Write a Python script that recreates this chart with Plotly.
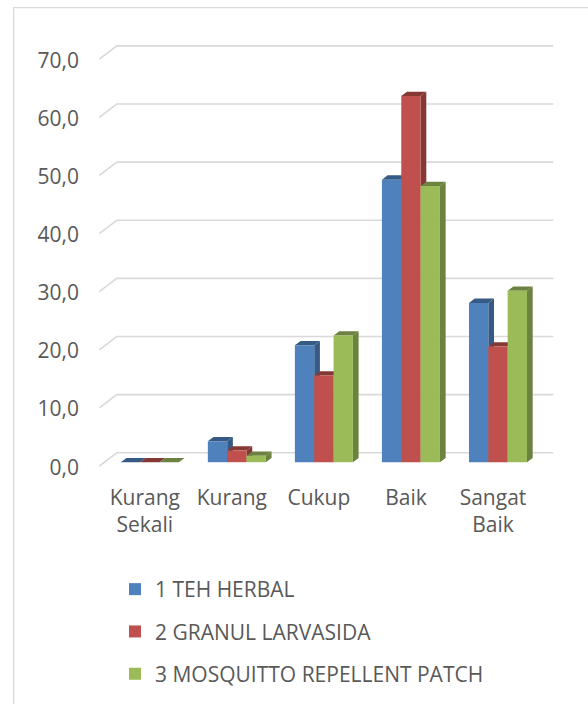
import plotly.graph_objects as go

# ---------------- data ----------------
categories = ["Kurang<br>Sekali", "Kurang", "Cukup", "Baik", "Sangat<br>Baik"]
series_names = ["1 TEH HERBAL", "2 GRANUL LARVASIDA", "3 MOSQUITTO REPELLENT PATCH"]
teh_herbal = [0.0, 3.6, 20.1, 48.6, 27.4]
granul_larvasida = [0.0, 2.0, 14.9, 63.0, 19.9]
mosquitto_patch = [0.0, 1.1, 21.8, 47.5, 29.5]
y_ticks = [0, 10, 20, 30, 40, 50, 60, 70]

# ---------------- style ----------------
front_colors = ["#4F81BD", "#C0504D", "#9BBB59"]
side_colors = ["#375A84", "#863835", "#6B8240"]
text_color = "#595959"
grid_color = "#D9D9D9"
FONT = "Open Sans"

W, H = 588, 704
plot_left, plot_right = 97, 555
plot_top, plot_bottom = 31.8, 468.5
x_range = [-0.6066, 4.655]
y_range = [-1, 74]

px_per_x = (plot_right - plot_left) / (x_range[1] - x_range[0])
px_per_y = (plot_bottom - plot_top) / (y_range[1] - y_range[0])


def dx(px):
    return px / px_per_x


def dy(px):
    return px / px_per_y


def x_of(px):
    return x_range[0] + (px - plot_left) / px_per_x


series = [teh_herbal, granul_larvasida, mosquitto_patch]
n_series = len(series)
group_w = 2 / 3
bar_w = group_w / n_series
x_pos = list(range(len(categories)))

fig = go.Figure()
for k, (name, vals) in enumerate(zip(series_names, series)):
    fig.add_trace(go.Bar(
        x=x_pos, y=vals, name=name,
        width=bar_w, offset=-group_w / 2 + k * bar_w,
        marker=dict(color=front_colors[k], line=dict(width=0)),
        legendgroup=name,
        hoverinfo="x+y+name",
    ))

shapes = []
# outer chart-area border
shapes.append(dict(type="rect", xref="paper", yref="paper",
                   x0=(13.7 - plot_left) / (plot_right - plot_left), x1=1.3,
                   y0=-1.0, y1=(plot_bottom - 7.3) / (plot_bottom - plot_top),
                   line=dict(color=grid_color, width=1.3), fillcolor="rgba(0,0,0,0)",
                   layer="below"))

# back-wall gridlines with depth diagonal
depth_back_x, depth_back_y = 17.5, 9.4
front_drop = 3.9
wall_left = x_of(99.3)
wall_right = x_of(553.3)
for v in y_ticks:
    path = (f"M{wall_left},{v - dy(front_drop)} "
            f"L{wall_left + dx(depth_back_x)},{v + dy(depth_back_y)} "
            f"L{wall_right},{v + dy(depth_back_y)}")
    shapes.append(dict(type="path", xref="x", yref="y", path=path,
                       line=dict(color=grid_color, width=1.6), layer="below"))

# 3-D depth faces of bars
bar_dx, bar_dy = dx(5.7), dy(4.3)
sides, tops = [], []
for k, vals in enumerate(series):
    for i, v in enumerate(vals):
        xl = x_pos[i] - group_w / 2 + k * bar_w
        xr = xl + bar_w
        sides.append(dict(type="path", xref="x", yref="y",
                          path=f"M{xr},0 L{xr},{v} L{xr + bar_dx},{v + bar_dy} L{xr + bar_dx},{bar_dy} Z",
                          fillcolor=side_colors[k], line=dict(width=0), layer="below"))
        tops.append(dict(type="path", xref="x", yref="y",
                         path=f"M{xl},{v} L{xr},{v} L{xr + bar_dx},{v + bar_dy} L{xl + bar_dx},{v + bar_dy} Z",
                         fillcolor=side_colors[k], line=dict(width=0), layer="below"))
shapes += sides + tops

fig.update_layout(
    width=W, height=H,
    margin=dict(l=plot_left, r=W - plot_right, t=plot_top, b=H - plot_bottom, pad=0,
                autoexpand=False),
    paper_bgcolor="white", plot_bgcolor="white",
    font=dict(family=FONT, size=20, color=text_color),
    separators=",.",
    barmode="group",
    shapes=shapes,
    showlegend=True,
    legend=dict(
        xref="container", yref="container",
        x=115 / W, y=1 - 569 / H, xanchor="left", yanchor="top",
        orientation="v", tracegroupgap=12,
        font=dict(family=FONT, size=21, color=text_color),
        bgcolor="rgba(0,0,0,0)", borderwidth=0,
    ),
    xaxis=dict(
        range=x_range, tickmode="array", tickvals=x_pos, ticktext=categories,
        showgrid=False, zeroline=False, showline=False, ticks="",
        tickfont=dict(family=FONT, size=21, color=text_color),
        ticklabelstandoff=15, ticklabelshift=-5, automargin=False,
    ),
    yaxis=dict(
        range=y_range, tickmode="array", tickvals=y_ticks, tickformat=".1f",
        showgrid=False, zeroline=False, showline=False, ticks="",
        tickfont=dict(family=FONT, size=21, color=text_color),
        ticklabelstandoff=17, ticklabelshift=5, automargin=False,
    ),
)

fig.write_html("out.html", config=dict(displayModeBar=False),
               post_script="document.body.style.margin='0';")
